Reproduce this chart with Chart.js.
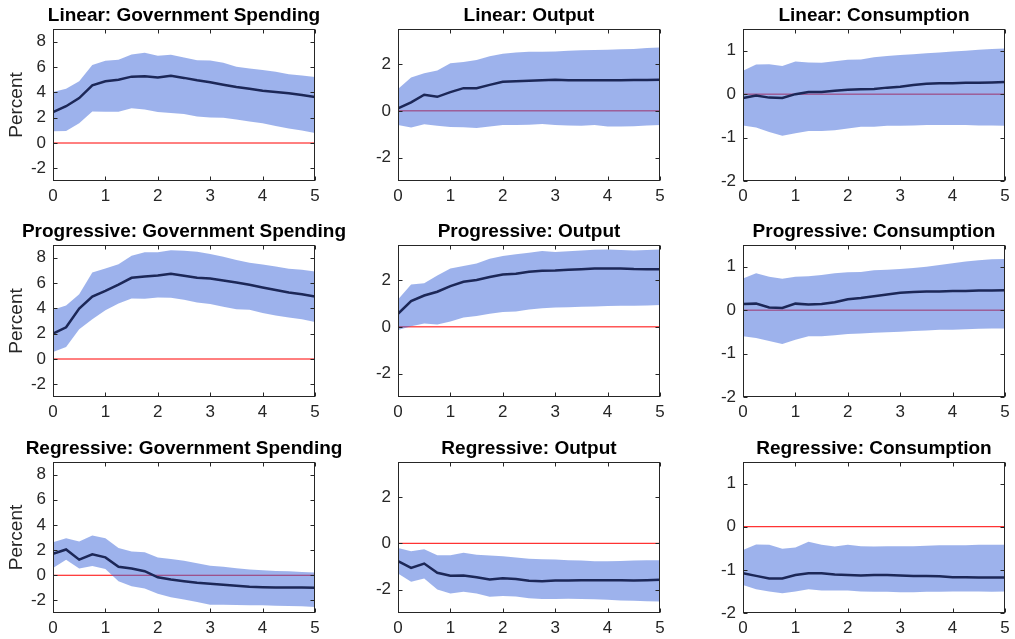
<!DOCTYPE html>
<html>
<head>
<meta charset="utf-8">
<script src="https://cdn.jsdelivr.net/npm/chart.js@4.4.1/dist/chart.umd.min.js"></script>
<style>
html, body { margin: 0; padding: 0; background: #fff; overflow: hidden; }
#wrap { position: relative; width: 1015px; height: 639px; }
#wrap canvas { position: absolute; }
</style>
</head>
<body>
<div id="wrap"></div>
<script>
// horizon in years (quarterly steps)
var horizon = [0, 0.25, 0.5, 0.75, 1, 1.25, 1.5, 1.75, 2, 2.25, 2.5, 2.75, 3, 3.25, 3.5, 3.75, 4, 4.25, 4.5, 4.75, 5];
var xTicks = [0, 1, 2, 3, 4, 5];
var govTicks = [-2, 0, 2, 4, 6, 8];
var outTicks = [-2, 0, 2];
var conTicks = [-2, -1, 0, 1];
var zeroLine = [0, 0];

// Linear
var linGovMed = [2.44, 2.9, 3.55, 4.56, 4.87, 5.0, 5.24, 5.27, 5.17, 5.3, 5.14, 4.95, 4.8, 4.6, 4.42, 4.29, 4.13, 4.03, 3.92, 3.79, 3.63];
var linGovHi = [4.03, 4.29, 4.87, 6.15, 6.49, 6.57, 6.99, 7.13, 6.89, 6.97, 6.75, 6.54, 6.52, 6.33, 6.01, 5.88, 5.77, 5.62, 5.43, 5.32, 5.22];
var linGovLo = [0.93, 0.95, 1.56, 2.49, 2.46, 2.46, 2.75, 2.65, 2.44, 2.36, 2.28, 2.09, 2.01, 1.99, 1.85, 1.7, 1.56, 1.35, 1.14, 0.98, 0.79];
var linOutMed = [0.11, 0.36, 0.69, 0.6, 0.8, 0.97, 0.97, 1.11, 1.24, 1.27, 1.29, 1.31, 1.33, 1.31, 1.31, 1.31, 1.31, 1.31, 1.32, 1.32, 1.33];
var linOutHi = [0.93, 1.43, 1.61, 1.73, 2.04, 2.09, 2.17, 2.33, 2.44, 2.49, 2.53, 2.53, 2.54, 2.57, 2.59, 2.6, 2.61, 2.63, 2.64, 2.69, 2.71];
var linOutLo = [-0.61, -0.71, -0.57, -0.64, -0.69, -0.7, -0.73, -0.67, -0.61, -0.61, -0.59, -0.56, -0.6, -0.63, -0.64, -0.61, -0.67, -0.67, -0.66, -0.63, -0.6];
var linConMed = [-0.09, -0.03, -0.08, -0.09, 0, 0.05, 0.05, 0.08, 0.1, 0.11, 0.12, 0.15, 0.17, 0.21, 0.24, 0.25, 0.25, 0.26, 0.26, 0.27, 0.28];
var linConHi = [0.54, 0.68, 0.69, 0.65, 0.75, 0.73, 0.72, 0.76, 0.79, 0.8, 0.85, 0.88, 0.9, 0.92, 0.94, 0.96, 0.98, 1.0, 1.02, 1.04, 1.05];
var linConLo = [-0.72, -0.77, -0.87, -0.96, -0.9, -0.85, -0.85, -0.83, -0.79, -0.75, -0.75, -0.73, -0.73, -0.72, -0.71, -0.71, -0.71, -0.71, -0.72, -0.72, -0.73];

// Progressive
var proGovMed = [2.0, 2.5, 3.98, 4.93, 5.38, 5.88, 6.41, 6.52, 6.6, 6.73, 6.57, 6.41, 6.36, 6.2, 6.04, 5.86, 5.65, 5.44, 5.25, 5.12, 4.93];
var proGovHi = [3.88, 4.22, 5.12, 6.83, 7.15, 7.49, 8.15, 8.42, 8.42, 8.58, 8.55, 8.47, 8.28, 8.07, 7.81, 7.6, 7.47, 7.31, 7.12, 7.04, 6.91];
var proGovLo = [0.55, 0.95, 2.35, 3.14, 3.85, 4.38, 4.78, 4.75, 4.85, 4.83, 4.67, 4.46, 4.35, 4.12, 3.93, 3.88, 3.64, 3.43, 3.27, 3.14, 2.93];
var proOutMed = [0.56, 1.1, 1.34, 1.5, 1.74, 1.93, 2.0, 2.13, 2.24, 2.27, 2.36, 2.4, 2.41, 2.44, 2.46, 2.49, 2.5, 2.5, 2.47, 2.46, 2.46];
var proOutHi = [1.17, 1.81, 1.86, 2.2, 2.49, 2.6, 2.71, 2.91, 3.03, 3.1, 3.17, 3.24, 3.2, 3.23, 3.27, 3.3, 3.31, 3.29, 3.26, 3.29, 3.31];
var proOutLo = [-0.14, 0.03, 0.14, 0.1, 0.23, 0.4, 0.46, 0.56, 0.63, 0.66, 0.74, 0.8, 0.83, 0.84, 0.86, 0.87, 0.89, 0.9, 0.9, 0.91, 0.93];
var proConMed = [0.14, 0.15, 0.06, 0.05, 0.15, 0.13, 0.14, 0.18, 0.25, 0.28, 0.32, 0.36, 0.4, 0.42, 0.43, 0.43, 0.44, 0.44, 0.45, 0.45, 0.46];
var proConHi = [0.73, 0.85, 0.77, 0.72, 0.77, 0.78, 0.81, 0.85, 0.87, 0.88, 0.92, 0.93, 0.95, 0.97, 1.0, 1.04, 1.08, 1.12, 1.15, 1.17, 1.18];
var proConLo = [-0.6, -0.64, -0.71, -0.78, -0.68, -0.6, -0.6, -0.58, -0.55, -0.54, -0.52, -0.51, -0.5, -0.48, -0.47, -0.45, -0.45, -0.44, -0.43, -0.42, -0.42];

// Regressive
var regGovMed = [1.71, 2.05, 1.24, 1.66, 1.42, 0.68, 0.53, 0.32, -0.16, -0.34, -0.47, -0.6, -0.68, -0.76, -0.84, -0.92, -0.95, -0.97, -0.97, -0.97, -1.0];
var regGovHi = [2.63, 2.95, 2.68, 3.16, 2.95, 2.16, 1.89, 1.82, 1.42, 1.29, 1.16, 0.95, 0.76, 0.68, 0.55, 0.45, 0.39, 0.34, 0.32, 0.26, 0.21];
var regGovLo = [0.58, 1.24, 0.53, 0.74, 0.5, -0.47, -0.87, -1.05, -1.47, -1.74, -1.92, -2.13, -2.34, -2.34, -2.37, -2.39, -2.39, -2.42, -2.45, -2.47, -2.53];
var regOutMed = [-0.77, -1.06, -0.87, -1.27, -1.4, -1.39, -1.46, -1.56, -1.5, -1.54, -1.61, -1.63, -1.6, -1.6, -1.59, -1.59, -1.59, -1.59, -1.6, -1.59, -1.57];
var regOutHi = [-0.2, -0.34, -0.26, -0.51, -0.51, -0.41, -0.49, -0.53, -0.56, -0.61, -0.66, -0.69, -0.7, -0.73, -0.74, -0.77, -0.77, -0.76, -0.74, -0.73, -0.73];
var regOutLo = [-1.3, -1.66, -1.51, -1.99, -2.16, -2.09, -2.16, -2.3, -2.27, -2.29, -2.37, -2.4, -2.4, -2.39, -2.4, -2.41, -2.43, -2.46, -2.47, -2.49, -2.51];
var regConMed = [-1.08, -1.14, -1.2, -1.2, -1.12, -1.08, -1.08, -1.11, -1.12, -1.13, -1.12, -1.12, -1.13, -1.14, -1.14, -1.15, -1.17, -1.17, -1.18, -1.18, -1.18];
var regConHi = [-0.54, -0.41, -0.42, -0.51, -0.48, -0.35, -0.42, -0.46, -0.42, -0.45, -0.46, -0.45, -0.45, -0.45, -0.44, -0.43, -0.43, -0.43, -0.42, -0.42, -0.42];
var regConLo = [-1.35, -1.45, -1.5, -1.54, -1.5, -1.45, -1.48, -1.48, -1.48, -1.5, -1.51, -1.51, -1.52, -1.52, -1.51, -1.51, -1.5, -1.5, -1.5, -1.51, -1.5];

Chart.defaults.font.family = '"Liberation Sans", Arial, Helvetica, sans-serif';

var AXIS_COLOR = '#262626';
var BAND_COLOR = 'rgba(59, 101, 217, 0.5)';
var LINE_COLOR = '#1c2757';

// plot area positions (left, top, height); width is the same for all
var colLeft = [53, 398, 743];
var rowTop = [29, 245, 462];
var rowH = [152, 152, 151];
var PLOT_W = 262;
var Y_W = 53;     // room for y ticks (and an empty twin on the right so the title centres on the plot)
var TOP_H = 30;   // room for title
var X_H = 30;     // room for x ticks

function pts(ys) {
    return horizon.map(function(x, i) { return { x: x, y: ys[i] }; });
}

// MATLAB-style box with inward tick marks
var boxPlugin = {
    id: 'matlabBox',
    afterDatasetsDraw: function(chart) {
        var a = chart.chartArea;
        var ctx = chart.ctx;
        var xs = chart.scales.x, ys = chart.scales.y;
        var L = Math.round(a.left) + 0.5, R = Math.round(a.right) - 0.5;
        var T = Math.round(a.top) + 0.5, B = Math.round(a.bottom) - 0.5;
        ctx.save();
        ctx.strokeStyle = AXIS_COLOR;
        ctx.lineWidth = 1;
        ctx.strokeRect(L, T, R - L, B - T);
        ctx.beginPath();
        xs.ticks.forEach(function(t) {
            var px = Math.round(xs.getPixelForValue(t.value)) + 0.5;
            ctx.moveTo(px, B); ctx.lineTo(px, B - 4);
            ctx.moveTo(px, T); ctx.lineTo(px, T + 4);
        });
        ys.ticks.forEach(function(t) {
            var py = Math.round(ys.getPixelForValue(t.value)) + 0.5;
            ctx.moveTo(L, py); ctx.lineTo(L + 4, py);
            ctx.moveTo(R, py); ctx.lineTo(R - 4, py);
        });
        ctx.stroke();
        ctx.restore();
    }
};

function makePanel(row, col, title, med, hi, lo, yMin, yMax, yTicks) {
    var canvas = document.createElement('canvas');
    var h = TOP_H + rowH[row] + X_H;
    var w = Y_W + PLOT_W + Y_W;
    canvas.width = w;
    canvas.height = h;
    canvas.style.left = (colLeft[col] - Y_W) + 'px';
    canvas.style.top = (rowTop[row] - TOP_H) + 'px';
    canvas.style.width = w + 'px';
    canvas.style.height = h + 'px';
    document.getElementById('wrap').appendChild(canvas);

    new Chart(canvas.getContext('2d'), {
        type: 'line',
        data: {
            datasets: [{
                // median response (drawn on top)
                data: pts(med),
                borderColor: LINE_COLOR,
                borderWidth: 2.5,
                pointRadius: 0,
                fill: false,
                tension: 0
            }, {
                data: pts(hi),
                borderWidth: 0,
                borderColor: 'rgba(0,0,0,0)',
                pointRadius: 0,
                backgroundColor: BAND_COLOR,
                fill: '+1'
            }, {
                data: pts(lo),
                borderWidth: 0,
                borderColor: 'rgba(0,0,0,0)',
                pointRadius: 0,
                fill: false
            }, {
                // zero line underneath the band
                data: [{ x: xTicks[0], y: zeroLine[0] }, { x: xTicks[xTicks.length - 1], y: zeroLine[1] }],
                borderColor: '#ff0000',
                borderWidth: 1,
                pointRadius: 0,
                fill: false
            }]
        },
        options: {
            responsive: false,
            animation: false,
            events: [],
            layout: { padding: 0 },
            plugins: {
                legend: { display: false },
                tooltip: { enabled: false },
                title: {
                    display: true,
                    text: title,
                    color: '#000',
                    font: { size: 19, weight: 'bold' },
                    padding: { top: 5, bottom: 2.2 }
                }
            },
            scales: {
                x: {
                    type: 'linear',
                    min: 0,
                    max: 5,
                    grid: { display: false, drawTicks: false },
                    border: { display: false },
                    ticks: { color: AXIS_COLOR, font: { size: 17 }, padding: 5, maxRotation: 0 },
                    afterBuildTicks: function(s) { s.ticks = xTicks.map(function(v) { return { value: v }; }); },
                    afterFit: function(s) { s.height = X_H; }
                },
                y: {
                    min: yMin,
                    max: yMax,
                    grid: { display: false, drawTicks: false },
                    border: { display: false },
                    ticks: { color: AXIS_COLOR, font: { size: 17 }, padding: 7 },
                    afterBuildTicks: function(s) { s.ticks = yTicks.map(function(v) { return { value: v }; }); },
                    afterFit: function(s) { s.width = Y_W; },
                    title: {
                        display: col === 0,
                        text: 'Percent',
                        color: AXIS_COLOR,
                        font: { size: 19 },
                        padding: { top: 5, bottom: 0 }
                    }
                },
                // empty right-hand spacer so the plot sits in the middle of the canvas
                yRight: {
                    position: 'right',
                    grid: { display: false, drawTicks: false },
                    border: { display: false },
                    ticks: { display: false },
                    afterFit: function(s) { s.width = Y_W; }
                }
            }
        },
        plugins: [boxPlugin]
    });
}

makePanel(0, 0, 'Linear: Government Spending', linGovMed, linGovHi, linGovLo, -3, 9, govTicks);
makePanel(0, 1, 'Linear: Output', linOutMed, linOutHi, linOutLo, -3, 3.5, outTicks);
makePanel(0, 2, 'Linear: Consumption', linConMed, linConHi, linConLo, -2, 1.5, conTicks);
makePanel(1, 0, 'Progressive: Government Spending', proGovMed, proGovHi, proGovLo, -3, 9, govTicks);
makePanel(1, 1, 'Progressive: Output', proOutMed, proOutHi, proOutLo, -3, 3.5, outTicks);
makePanel(1, 2, 'Progressive: Consumption', proConMed, proConHi, proConLo, -2, 1.5, conTicks);
makePanel(2, 0, 'Regressive: Government Spending', regGovMed, regGovHi, regGovLo, -3, 9, govTicks);
makePanel(2, 1, 'Regressive: Output', regOutMed, regOutHi, regOutLo, -3, 3.5, outTicks);
makePanel(2, 2, 'Regressive: Consumption', regConMed, regConHi, regConLo, -2, 1.5, conTicks);
</script>
</body>
</html>
